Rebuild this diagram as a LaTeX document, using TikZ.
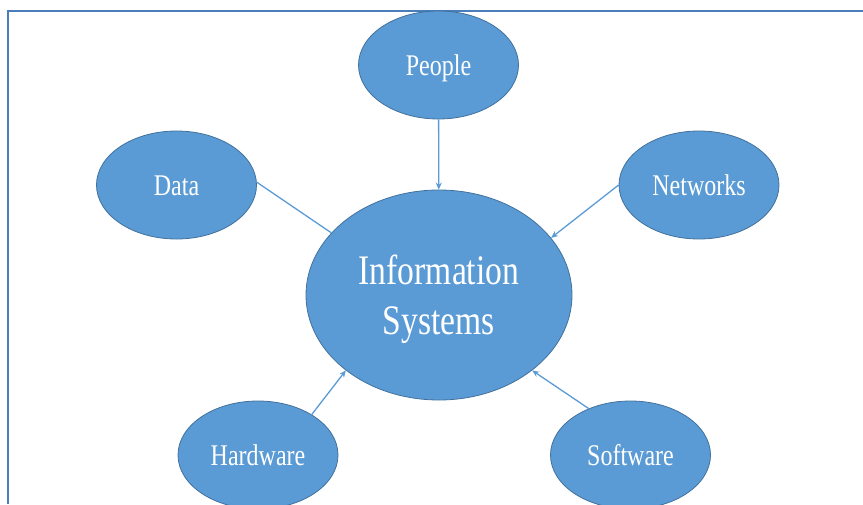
\documentclass[tikz,border=0pt]{standalone}
\usepackage{fontspec}
\newfontfamily\bubblefont[FakeStretch=0.8]{Liberation Serif}
\usetikzlibrary{shapes.geometric}
\usetikzlibrary{arrows.meta}
\definecolor{bubblefill}{HTML}{5B9BD5}
\definecolor{bubbleedge}{HTML}{41719C}
\definecolor{framecol}{HTML}{4A7EBB}

\begin{document}
\begin{tikzpicture}[x=1pt, y=-1pt,
	bubble/.style={ellipse, fill=bubblefill, draw=bubbleedge, line width=0.8pt, inner sep=0pt,
		minimum width=160pt, minimum height=108pt, text=white, text height=20pt, text depth=0pt,
		font=\bubblefont\fontsize{30}{36}\selectfont},
	link/.style={draw=bubblefill, line width=1.3pt},
	feed/.style={link, -{Stealth[length=7pt, width=6pt]}}]
		\useasboundingbox (0,0) rectangle (863,504);
		\draw[framecol, line width=2pt] (863,10.5) -- (7.5,10.5) -- (7.5,504);
		% the five parts around the middle
		\node[bubble] (people) at (438.5,65) {People};
		\node[bubble] (data) at (176.5,185) {Data};
		\node[bubble] (networks) at (699,185) {Networks};
		\node[bubble] (hardware) at (258,455) {Hardware};
		\node[bubble] (software) at (630.5,455) {Software};
		\node[bubble, minimum width=266pt, minimum height=210pt, align=center,
			text height=, text depth=-5pt,
			font=\bubblefont\fontsize{42}{50}\selectfont] (info) at (439,295) {Information\\Systems};
		\draw[feed] (people) -- (info);
		\draw[link] (data.2) -- (info.150);
		\draw[feed] (networks.180) -- (info.27);
		\draw[feed] (hardware.37) -- (info.219);
		\draw[feed] (software.132) -- (info.321);
	\end{tikzpicture}
\end{document}
